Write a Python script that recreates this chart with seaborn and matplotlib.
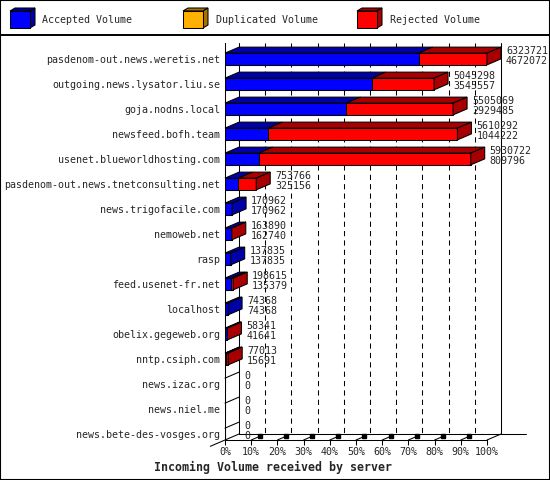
import matplotlib
matplotlib.use('Agg')
import matplotlib.pyplot as plt
import seaborn as sns
from matplotlib.patches import Polygon, Rectangle

hosts = ['pasdenom-out.news.weretis.net', 'outgoing.news.lysator.liu.se', 'goja.nodns.local',
         'newsfeed.bofh.team', 'usenet.blueworldhosting.com', 'pasdenom-out.news.tnetconsulting.net',
         'news.trigofacile.com', 'nemoweb.net', 'rasp', 'feed.usenet-fr.net', 'localhost',
         'obelix.gegeweb.org', 'nntp.csiph.com', 'news.izac.org', 'news.niel.me',
         'news.bete-des-vosges.org']
offered = [6323721, 5045298, 5505069, 5610292, 5930722, 753766, 170962, 163890,
           137835, 198615, 74368, 58341, 77013, 0, 0, 0]
accepted = [4672072, 3545557, 2929485, 1044222, 809796, 325156, 170962, 162740,
            137835, 135379, 74368, 41641, 15691, 0, 0, 0]
x_ticks = [0, 10, 20, 30, 40, 50, 60, 70, 80, 90, 100]
legend_labels = ['Accepted Volume', 'Duplicated Volume', 'Rejected Volume']

blue, blue_dark = '#0000FF', '#0000A8'
orange, orange_dark = '#FFB000', '#A87400'
red, red_dark = '#FF0000', '#A80000'

sns.set_style('ticks')
plt.rcParams['font.family'] = ['DejaVu Sans Mono']

max_total = max(offered)
total_pct = [v / max_total * 100 for v in offered]
acc_pct = [v / max_total * 100 for v in accepted]

fig = plt.figure(figsize=(5.5, 4.8), dpi=100)

# background: border, legend
bg = fig.add_axes([0, 0, 1, 1])
bg.set_xlim(0, 550)
bg.set_ylim(480, 0)
bg.axis('off')
bg.add_patch(Rectangle((0, 0), 550, 480, fill=False, ec='black', lw=1.5))
bg.plot([0, 550], [35, 35], color='black', lw=1.4)
for lx, tx, c, cd, lab in zip([10, 183, 357], [42, 216, 390],
                              [blue, orange, red], [blue_dark, orange_dark, red_dark], legend_labels):
    bg.add_patch(Polygon([(lx, 11), (lx + 20, 11), (lx + 25, 8), (lx + 5, 8)], fc=cd, ec='black', lw=0.75))
    bg.add_patch(Polygon([(lx + 20, 11), (lx + 25, 8), (lx + 25, 25), (lx + 20, 28)], fc=cd, ec='black', lw=0.75))
    bg.add_patch(Rectangle((lx, 11), 20, 17, fc=c, ec='black', lw=0.75))
    bg.text(tx, 20, lab, va='center', ha='left', fontsize=7.2)

ax = fig.add_axes([225 / 550, 40 / 480, 262 / 550, 397 / 480])
ax.patch.set_alpha(0)
sns.barplot(x=total_pct, y=hosts, orient='h', color=red, saturation=1, width=0.47,
            edgecolor='black', linewidth=0.75, errorbar=None, ax=ax, zorder=3)
sns.barplot(x=acc_pct, y=hosts, orient='h', color=blue, saturation=1, width=0.47,
            edgecolor='black', linewidth=0.75, errorbar=None, ax=ax, zorder=3)

ytop, ybot = -0.64, 15.24
ax.set_xlim(0, 100)
ax.set_ylim(ybot, ytop)

DX = 14 / 2.62
DY = -6 / 25
H = 0.235
yfloor = ybot + DY

# back wall and grid
for g in x_ticks[1:-1]:
    ax.plot([g + DX, g + DX], [ytop, yfloor], color='black', lw=0.75, ls=(0, (5, 4)), zorder=1, clip_on=False)
ax.plot([DX, DX], [ytop, yfloor], color='black', lw=0.75, zorder=1, clip_on=False)
ax.plot([100 + DX, 100 + DX], [ytop, yfloor], color='black', lw=0.75, zorder=1, clip_on=False)
ax.plot([DX, 115], [yfloor, yfloor], color='black', lw=0.75, zorder=1, clip_on=False)
ax.plot([100, 100 + DX], [ybot, yfloor], color='black', lw=0.75, zorder=1, clip_on=False)
ax.plot([-DX * 1.05, DX], [ybot - DY * 1.05, yfloor], color='black', lw=0.75, zorder=1, clip_on=False)
for g in x_ticks[1:-1]:
    ax.plot([g, g + DX * 0.5], [ybot, ybot + DY * 0.5], color='black', lw=0.75, zorder=1, clip_on=False)
    ax.plot([g + DX * 0.6], [ybot + DY * 0.6], marker='s', ms=2.2, color='black', zorder=1, clip_on=False)

# 3D faces and value labels
for i, (tot, acc) in enumerate(zip(total_pct, acc_pct)):
    top, bot = i - H, i + H
    if tot == 0:
        ax.plot([0, DX], [top, top + DY], color='black', lw=0.75, zorder=3, clip_on=False)
    else:
        for x0, x1, c in [(0, acc, blue_dark), (acc, tot, red_dark)]:
            if x1 > x0:
                ax.add_patch(Polygon([(x0, top), (x1, top), (x1 + DX, top + DY), (x0 + DX, top + DY)],
                                     fc=c, ec='black', lw=0.75, zorder=3, clip_on=False))
        side = red_dark if tot > acc else blue_dark
        ax.add_patch(Polygon([(tot, top), (tot + DX, top + DY), (tot + DX, bot + DY), (tot, bot)],
                             fc=side, ec='black', lw=0.75, zorder=3, clip_on=False))
    ax.text(tot + 19 / 2.62, i - 0.32, str(offered[i]), va='center', ha='left', fontsize=7.2, zorder=4, clip_on=False)
    ax.text(tot + 19 / 2.62, i + 0.08, str(accepted[i]), va='center', ha='left', fontsize=7.2, zorder=4, clip_on=False)

for s in ['top', 'right']:
    ax.spines[s].set_visible(False)
for s in ['left', 'bottom']:
    ax.spines[s].set_color('black')
    ax.spines[s].set_linewidth(0.75)
ax.set_xticks(x_ticks, labels=[f'{t}%' for t in x_ticks])
ax.tick_params(axis='x', length=3.6, width=0.75, pad=1.5, labelsize=7.2, color='black', bottom=True)
ax.tick_params(axis='y', length=0, pad=3.6, labelsize=7.2)
ax.set_xlabel('')
ax.set_ylabel('')

fig.text(273.5 / 550, 1 - 467 / 480, 'Incoming Volume received by server', ha='center', va='center',
         fontweight='bold', fontsize=8.4)

fig.savefig('out.png', dpi=100)
